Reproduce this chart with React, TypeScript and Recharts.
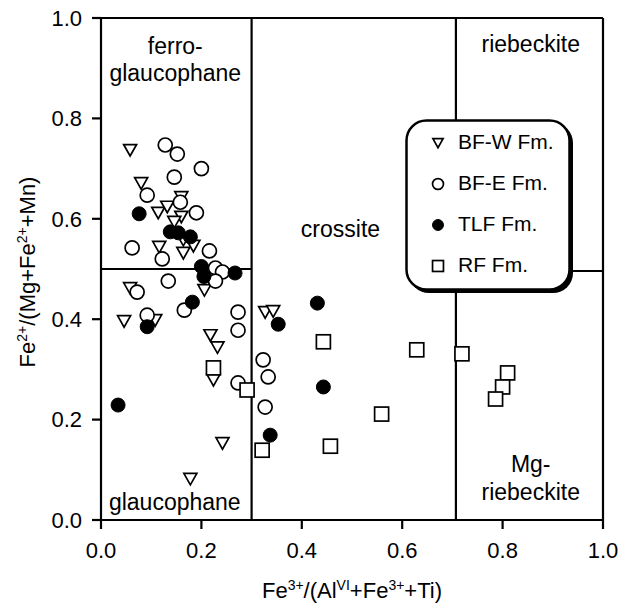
import React from "react";
import {
  ScatterChart,
  Scatter,
  XAxis,
  YAxis,
  ReferenceLine,
  ReferenceDot,
  Legend,
} from "recharts";

// Fe3+/(AlVI+Fe3++Ti) , Fe2+/(Mg+Fe2++Mn) pairs
const bfW: [number, number][] = [
  [0.058, 0.737], [0.08, 0.671], [0.16, 0.643], [0.114, 0.612], [0.132, 0.624],
  [0.16, 0.604], [0.146, 0.594], [0.164, 0.558], [0.184, 0.546], [0.116, 0.544],
  [0.164, 0.532], [0.206, 0.458], [0.058, 0.462], [0.046, 0.396], [0.108, 0.398],
  [0.218, 0.368], [0.232, 0.344], [0.224, 0.279], [0.242, 0.153], [0.178, 0.082],
  [0.327, 0.414], [0.343, 0.416],
];
const bfE: [number, number][] = [
  [0.128, 0.747], [0.152, 0.729], [0.2, 0.7], [0.146, 0.683], [0.092, 0.647],
  [0.158, 0.633], [0.19, 0.612], [0.062, 0.542], [0.122, 0.52], [0.216, 0.536],
  [0.228, 0.502], [0.242, 0.494], [0.228, 0.476], [0.134, 0.476], [0.072, 0.454],
  [0.166, 0.418], [0.273, 0.414], [0.273, 0.378], [0.092, 0.408], [0.273, 0.273],
  [0.327, 0.225], [0.323, 0.319], [0.333, 0.285],
];
const tlf: [number, number][] = [
  [0.076, 0.61], [0.138, 0.574], [0.154, 0.572], [0.178, 0.564], [0.2, 0.505],
  [0.205, 0.485], [0.267, 0.492], [0.182, 0.434], [0.092, 0.385], [0.034, 0.229],
  [0.337, 0.169], [0.431, 0.432], [0.353, 0.39], [0.443, 0.265],
];
const rf: [number, number][] = [
  [0.224, 0.303], [0.291, 0.259], [0.321, 0.139], [0.443, 0.355], [0.629, 0.339],
  [0.559, 0.211], [0.457, 0.147], [0.719, 0.331], [0.81, 0.293], [0.8, 0.265],
  [0.786, 0.241],
];

const ticks = [0, 0.2, 0.4, 0.6, 0.8, 1.0];

// field boundaries
const xGlauc = 0.3;
const xRieb = 0.707;
const yLeft = 0.5;
const yRight = 0.496;

const fieldNames: { text: string; x: number; y: number }[] = [
  { text: "ferro-", x: 0.148, y: 0.945 },
  { text: "glaucophane", x: 0.148, y: 0.89 },
  { text: "crossite", x: 0.477, y: 0.58 },
  { text: "riebeckite", x: 0.856, y: 0.948 },
  { text: "Mg-", x: 0.856, y: 0.112 },
  { text: "riebeckite", x: 0.856, y: 0.056 },
  { text: "glaucophane", x: 0.147, y: 0.037 },
];

const font = "'Liberation Sans', Arial, Helvetica, sans-serif";

const toPts = (arr: [number, number][]) => arr.map(([x, y]) => ({ x, y }));

const DownTri = ({ cx, cy, s = 1 }: any) => (
  <polygon
    points={`${cx - 6.5 * s},${cy - 5.5 * s} ${cx + 6.5 * s},${cy - 5.5 * s} ${cx},${cy + 6 * s}`}
    fill="#fff"
    stroke="#000"
    strokeWidth={1.7}
  />
);
const OpenCircle = ({ cx, cy, s = 1 }: any) => (
  <circle cx={cx} cy={cy} r={7 * s} fill="#fff" stroke="#000" strokeWidth={1.7} />
);
const FullCircle = ({ cx, cy, s = 1 }: any) => (
  <circle cx={cx} cy={cy} r={7 * s} fill="#000" stroke="#000" strokeWidth={1} />
);
const Square = ({ cx, cy, s = 1 }: any) => (
  <rect x={cx - 7 * s} y={cy - 7 * s} width={14 * s} height={14 * s} fill="#fff" stroke="#000" strokeWidth={1.7} />
);

const series = [
  { name: "BF-W Fm.", data: bfW, Shape: DownTri },
  { name: "BF-E Fm.", data: bfE, Shape: OpenCircle },
  { name: "TLF Fm.", data: tlf, Shape: FullCircle },
  { name: "RF Fm.", data: rf, Shape: Square },
];

const LegendBox = () => (
  <svg width={172} height={176} style={{ display: "block" }}>
    <rect x={4} y={4} width={164} height={170} rx={20} fill="#000" />
    <rect x={1.5} y={1.5} width={163} height={169} rx={20} fill="#fff" stroke="#000" strokeWidth={2.5} />
    {series.map((s, i) => (
      <g key={s.name}>
        <s.Shape cx={33} cy={24 + i * 41} s={0.78} />
        <text x={53} y={30 + i * 41} fontSize={21} fontFamily={font} fill="#000">
          {s.name}
        </text>
      </g>
    ))}
  </svg>
);

const XTitle = () => (
  <text x={352} y={598} textAnchor="middle" fontSize={22} fontFamily={font} fill="#000">
    Fe
    <tspan fontSize={14} dy={-8}>3+</tspan>
    <tspan dy={8}>/(Al</tspan>
    <tspan fontSize={14} dy={-8}>VI</tspan>
    <tspan dy={8}>+Fe</tspan>
    <tspan fontSize={14} dy={-8}>3+</tspan>
    <tspan dy={8}>+Ti)</tspan>
  </text>
);

const YTitle = () => (
  <text
    transform="translate(35,272) rotate(-90)"
    textAnchor="middle"
    fontSize={22}
    fontFamily={font}
    fill="#000"
  >
    Fe
    <tspan fontSize={14} dy={-8}>2+</tspan>
    <tspan dy={8}>/(Mg+Fe</tspan>
    <tspan fontSize={14} dy={-8}>2+</tspan>
    <tspan dy={8}>+Mn)</tspan>
  </text>
);

const axisLine = { stroke: "#000", strokeWidth: 2.2 };
const tickStyle = { fill: "#000", fontSize: 22, fontFamily: font };

export default function App() {
  return (
    <div style={{ width: 621, height: 607, background: "#fff" }}>
      <style>{"body{margin:0;background:#fff}"}</style>
      <ScatterChart width={621} height={607} margin={{ top: 18, right: 18, bottom: 0, left: 0 }}>
        <XAxis
          type="number"
          dataKey="x"
          domain={[0, 1]}
          ticks={ticks}
          allowDataOverflow
          tickFormatter={(v) => v.toFixed(1)}
          height={87}
          tickSize={9}
          tickMargin={13}
          axisLine={axisLine}
          tickLine={axisLine}
          tick={tickStyle}
          label={{ content: () => <XTitle /> }}
        />
        <YAxis
          type="number"
          dataKey="y"
          domain={[0, 1]}
          ticks={ticks}
          allowDataOverflow
          tickFormatter={(v) => v.toFixed(1)}
          width={101}
          tickSize={9}
          tickMargin={10}
          axisLine={axisLine}
          tickLine={axisLine}
          tick={tickStyle}
          label={{ content: () => <YTitle /> }}
        />
        <ReferenceLine y={1} stroke="#000" strokeWidth={2.2} />
        <ReferenceLine x={1} stroke="#000" strokeWidth={2.2} />
        <ReferenceLine x={xGlauc} stroke="#000" strokeWidth={2.2} />
        <ReferenceLine x={xRieb} stroke="#000" strokeWidth={2.2} />
        <ReferenceLine segment={[{ x: 0, y: yLeft }, { x: xGlauc, y: yLeft }]} stroke="#000" strokeWidth={2.2} />
        <ReferenceLine segment={[{ x: xRieb, y: yRight }, { x: 1, y: yRight }]} stroke="#000" strokeWidth={2.2} />
        {fieldNames.map((f, i) => (
          <ReferenceDot
            key={i}
            x={f.x}
            y={f.y}
            r={1}
            fill="none"
            stroke="none"
            label={{ value: f.text, position: "center", fontSize: 23, fontFamily: font, fill: "#000" }}
          />
        ))}
        {series.map((s) => (
          <Scatter
            key={s.name}
            name={s.name}
            data={toPts(s.data)}
            shape={(p: any) => <s.Shape cx={p.cx} cy={p.cy} />}
            isAnimationActive={false}
          />
        ))}
        <Legend
          layout="vertical"
          align="center"
          verticalAlign="middle"
          wrapperStyle={{ left: 405, top: 119, width: 172, height: 176 }}
          content={() => <LegendBox />}
        />
      </ScatterChart>
    </div>
  );
}
